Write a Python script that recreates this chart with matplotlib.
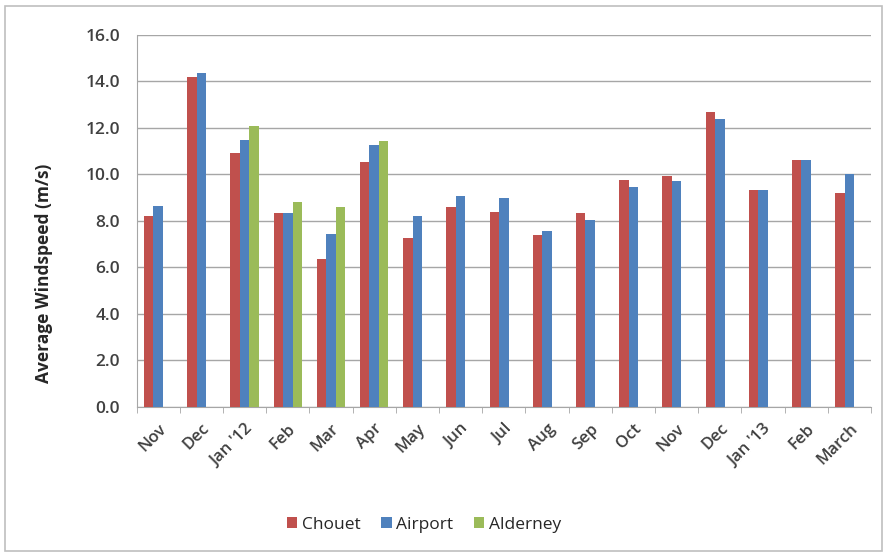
import numpy as np
import matplotlib.pyplot as plt
from matplotlib.patches import Rectangle
from matplotlib.ticker import FormatStrFormatter

# Month labels along the x axis
months = ["Nov", "Dec", "Jan '12", "Feb", "Mar", "Apr", "May", "Jun", "Jul",
          "Aug", "Sep", "Oct", "Nov", "Dec", "Jan '13", "Feb", "March"]

# Average windspeed per station (m/s)
chouet = [8.2, 14.2, 10.9, 8.35, 6.35, 10.55, 7.25, 8.6, 8.4,
          7.4, 8.35, 9.75, 9.95, 12.7, 9.35, 10.6, 9.2]
airport = [8.65, 14.35, 11.5, 8.35, 7.45, 11.25, 8.2, 9.05, 9.0,
           7.55, 8.05, 9.45, 9.7, 12.4, 9.35, 10.6, 10.0]
alderney = [np.nan, np.nan, 12.1, 8.8, 8.6, 11.45, np.nan, np.nan, np.nan,
            np.nan, np.nan, np.nan, np.nan, np.nan, np.nan, np.nan, np.nan]

series = [("Chouet", chouet, "#C0504D"),
          ("Airport", airport, "#4F81BD"),
          ("Alderney", alderney, "#9BBB59")]

plt.rcParams['font.family'] = ['Open Sans', 'DejaVu Sans']

fig = plt.figure(figsize=(8.87, 5.55), dpi=100)
ax = fig.add_axes([0.154, 0.267, 0.828, 0.67])

# Outer chart border, like the Excel chart area
fig.patches.append(Rectangle((0.006, 0.008), 0.988, 0.982, transform=fig.transFigure,
                             fill=False, edgecolor="#BFBFBF", linewidth=1.2))

x = np.arange(len(months))
width = 0.22
for i, (name, vals, color) in enumerate(series):
    ax.bar(x + (i - 1) * width, vals, width, color=color, label=name, zorder=3)

ax.set_xlim(-0.5, len(months) - 0.5)
ax.set_ylim(0, 16)
ax.set_yticks(np.arange(0, 16.1, 2))
ax.yaxis.set_major_formatter(FormatStrFormatter('%.1f'))
ax.grid(axis='y', color='#A6A6A6', linewidth=1, zorder=0)

ax.set_xticks(x)
ax.set_xticklabels(months, rotation=45, ha='right', rotation_mode='anchor',
                   fontsize=12, fontweight=600, color='#404040')
ax.tick_params(axis='x', length=0, pad=10)
ax.set_xticks(np.arange(-0.5, len(months), 1), minor=True)
ax.tick_params(axis='x', which='minor', length=4, color='#A6A6A6')
ax.tick_params(axis='y', length=0, labelsize=12.5, pad=12, labelcolor='#404040')
for lab in ax.get_yticklabels():
    lab.set_fontweight(600)

for side in ['top', 'right']:
    ax.spines[side].set_visible(False)
ax.spines['left'].set_color('#A6A6A6')
ax.spines['bottom'].set_color('#A6A6A6')

ax.set_ylabel("Average Windspeed (m/s)", fontsize=12.5, fontweight='bold',
              color='#262626')
ax.yaxis.set_label_coords(-0.114, 0.36)

fig.legend(loc='center', bbox_to_anchor=(0.478, 0.054), ncol=3, frameon=False,
           fontsize=12.5, handlelength=0.6, handleheight=0.6, handletextpad=0.25,
           columnspacing=1.2, labelcolor='#262626')

plt.savefig('out.png', dpi=100)
